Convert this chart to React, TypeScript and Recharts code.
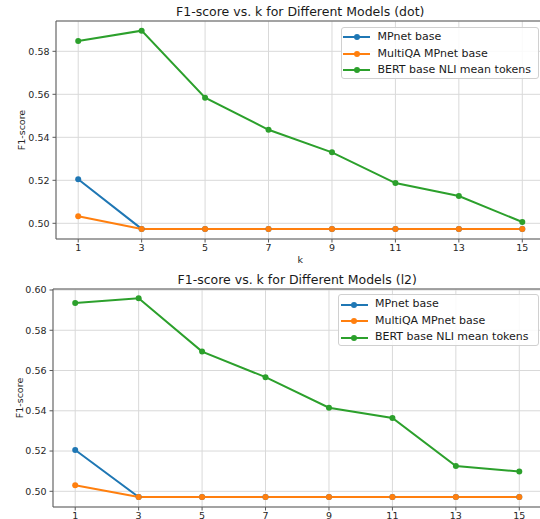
import React from 'react';
import { LineChart, Line, XAxis, YAxis, CartesianGrid, ReferenceLine } from 'recharts';

const kValues = [1, 3, 5, 7, 9, 11, 13, 15];
const seriesNames = ['MPnet base', 'MultiQA MPnet base', 'BERT base NLI mean tokens'];
const seriesColors = ['#1f77b4', '#ff7f0e', '#2ca02c'];

const mpnetDot = [0.5205, 0.4974, 0.4974, 0.4974, 0.4974, 0.4974, 0.4974, 0.4974];
const multiqaDot = [0.5033, 0.4974, 0.4974, 0.4974, 0.4974, 0.4974, 0.4974, 0.4974];
const bertDot = [0.5848, 0.5896, 0.5584, 0.5435, 0.533, 0.5187, 0.5127, 0.5006];

const mpnetL2 = [0.5205, 0.4972, 0.4972, 0.4972, 0.4972, 0.4972, 0.4972, 0.4972];
const multiqaL2 = [0.503, 0.4972, 0.4972, 0.4972, 0.4972, 0.4972, 0.4972, 0.4972];
const bertL2 = [0.5935, 0.5959, 0.5694, 0.5567, 0.5415, 0.5364, 0.5126, 0.5098];

const yTicksDot = [0.5, 0.52, 0.54, 0.56, 0.58];
const yTicksL2 = [0.5, 0.52, 0.54, 0.56, 0.58, 0.6];

const FONT = '"DejaVu Sans", sans-serif';
const TICK_COLOR = '#262626';
const AXIS_COLOR = '#5a5a5a';
const GRID_COLOR = '#d9d9d9';

type PanelProps = {
  top: number;
  title: string;
  mp: number[];
  mq: number[];
  bert: number[];
  yTicks: number[];
  yDomain: [number, number];
  yAxisWidth: number;
  rightMargin: number;
  yLabelX: number;
  legendLeft: number;
  legendTop: number;
  legendWidth: number;
};

function Panel(p: PanelProps) {
  const W = 560;
  const H = 268;
  const data = kValues.map((k, i) => ({ k, mpnet: p.mp[i], multiqa: p.mq[i], bert: p.bert[i] }));
  const keys = ['mpnet', 'multiqa', 'bert'];
  const plotLeft = p.yAxisWidth;
  const plotRight = W - p.rightMargin;
  const plotCenter = (plotLeft + plotRight) / 2;
  return (
    <div style={{ position: 'absolute', left: 0, top: p.top, width: W, height: H }}>
      <LineChart width={W} height={H} data={data} margin={{ top: 21, right: p.rightMargin, bottom: 0, left: 0 }}>
        <CartesianGrid stroke={GRID_COLOR} strokeWidth={1} />
        <XAxis
          dataKey="k"
          type="number"
          domain={[0.3, 15.7]}
          ticks={kValues}
          allowDataOverflow
          height={29}
          tickSize={3.5}
          tickMargin={2}
          stroke={AXIS_COLOR}
          tick={{ fill: TICK_COLOR, fontSize: 9.5, fontFamily: FONT }}
          tickLine={{ stroke: AXIS_COLOR }}
          label={{ value: 'k', position: 'insideBottom', offset: 5, fill: TICK_COLOR, fontSize: 9.5, fontFamily: FONT }}
        />
        <YAxis
          type="number"
          domain={p.yDomain}
          ticks={p.yTicks}
          allowDataOverflow
          width={p.yAxisWidth}
          tickSize={3.5}
          tickMargin={3}
          stroke={AXIS_COLOR}
          tickFormatter={(v: number) => v.toFixed(2)}
          tick={{ fill: TICK_COLOR, fontSize: 9.5, fontFamily: FONT }}
          tickLine={{ stroke: AXIS_COLOR }}
          label={{
            content: () => (
              <text
                x={p.yLabelX}
                y={21 + (H - 21 - 29) / 2}
                transform={`rotate(-90, ${p.yLabelX}, ${21 + (H - 21 - 29) / 2})`}
                textAnchor="middle"
                dominantBaseline="central"
                fill={TICK_COLOR}
                fontSize={9.5}
                fontFamily={FONT}
              >
                F1-score
              </text>
            ),
          }}
        />
        <ReferenceLine y={p.yDomain[1]} stroke={AXIS_COLOR} ifOverflow="extendDomain" />
        {keys.map((key, i) => (
          <Line
            key={key}
            dataKey={key}
            type="linear"
            stroke={seriesColors[i]}
            strokeWidth={2}
            dot={{ r: 3, fill: seriesColors[i], stroke: seriesColors[i], strokeWidth: 0 }}
            activeDot={false}
            isAnimationActive={false}
          />
        ))}
      </LineChart>
      <div
        style={{
          position: 'absolute',
          left: plotCenter - 200,
          width: 400,
          top: 4,
          textAlign: 'center',
          fontFamily: FONT,
          fontSize: 12.5,
          lineHeight: '16px',
          color: '#1a1a1a',
          whiteSpace: 'nowrap',
        }}
      >
        {p.title}
      </div>
      <div
        style={{
          position: 'absolute',
          left: p.legendLeft,
          top: p.legendTop,
          width: p.legendWidth,
          height: 52,
          boxSizing: 'border-box',
          border: '1px solid #d0d0d0',
          borderRadius: 3,
          background: 'rgba(255,255,255,0.85)',
          paddingTop: 1,
        }}
      >
        {seriesNames.map((name, i) => (
          <div key={name} style={{ position: 'relative', height: 16.5, fontFamily: FONT, fontSize: 11, color: '#1a1a1a' }}>
            <div style={{ position: 'absolute', left: 1.5, top: 7.25, width: 27, height: 2, background: seriesColors[i] }} />
            <div
              style={{
                position: 'absolute',
                left: 12,
                top: 5.25,
                width: 6,
                height: 6,
                borderRadius: 3,
                background: seriesColors[i],
              }}
            />
            <div style={{ position: 'absolute', left: 36, top: 0, lineHeight: '16.5px', whiteSpace: 'nowrap' }}>{name}</div>
          </div>
        ))}
      </div>
    </div>
  );
}

export default function App() {
  return (
    <div style={{ position: 'absolute', left: 0, top: 0, width: 540, height: 519, overflow: 'hidden', background: '#fff' }}>
      <Panel
        top={0}
        title="F1-score vs. k for Different Models (dot)"
        mp={mpnetDot}
        mq={multiqaDot}
        bert={bertDot}
        yTicks={yTicksDot}
        yDomain={[0.4927, 0.5941]}
        yAxisWidth={56}
        rightMargin={15.5}
        yLabelX={21.7}
        legendLeft={340.5}
        legendTop={27}
        legendWidth={198}
      />
      <Panel
        top={268}
        title="F1-score vs. k for Different Models (l2)"
        mp={mpnetL2}
        mq={multiqaL2}
        bert={bertL2}
        yTicks={yTicksL2}
        yDomain={[0.4922, 0.6005]}
        yAxisWidth={53}
        rightMargin={18.5}
        yLabelX={19}
        legendLeft={338}
        legendTop={26.3}
        legendWidth={201}
      />
    </div>
  );
}
